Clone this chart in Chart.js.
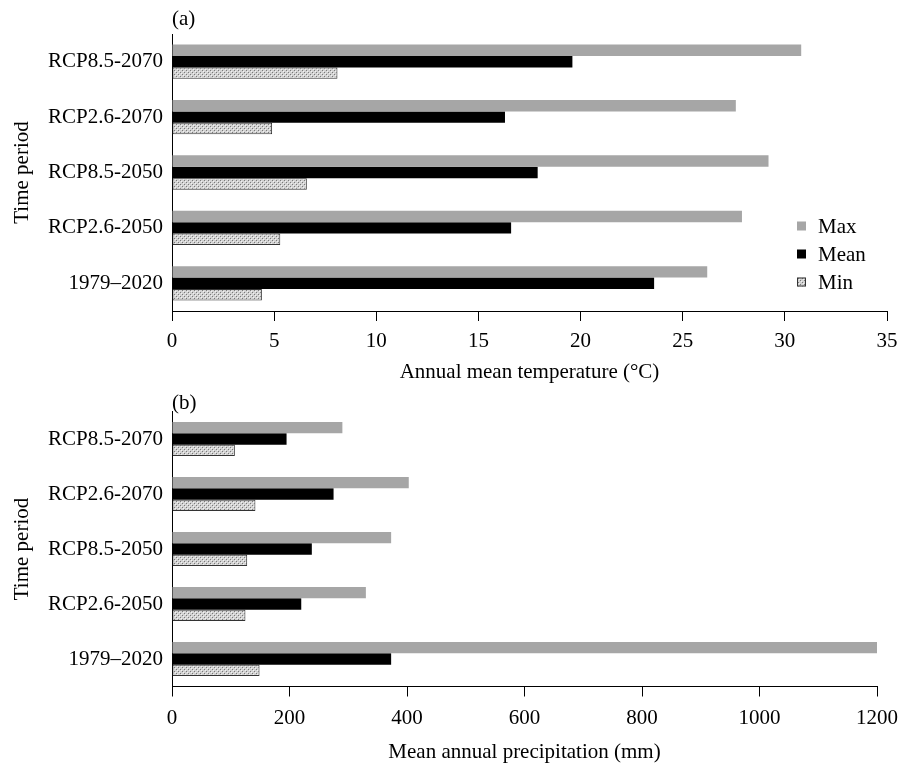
<!DOCTYPE html>
<html>
<head>
<meta charset="utf-8">
<script src="https://cdn.jsdelivr.net/npm/chart.js@4/dist/chart.umd.min.js"></script>
<style>
  body { margin: 0; background: #fff; }
  #wrap { position: relative; width: 898px; height: 767px; }
  #chartA { position: absolute; left: 0; top: 0; }
  #chartB { position: absolute; left: 0; top: 385px; }
</style>
</head>
<body>
<div id="wrap">
  <canvas id="chartA" width="898" height="385"></canvas>
  <canvas id="chartB" width="898" height="382"></canvas>
</div>
<script>
// categories
var periods = ['RCP8.5-2070', 'RCP2.6-2070', 'RCP8.5-2050', 'RCP2.6-2050', '1979–2020'];
var seriesNames = ['Max', 'Mean', 'Min'];

// (a) annual mean temperature, °C
var tempMax = [30.8, 27.6, 29.2, 27.9, 26.2];
var tempMean = [19.6, 16.3, 17.9, 16.6, 23.6];
var tempMin = [8.1, 4.9, 6.6, 5.3, 4.4];
var tempTicks = [0, 5, 10, 15, 20, 25, 30, 35];

// (b) mean annual precipitation, mm
var precMax = [290, 403, 373, 330, 1200];
var precMean = [195, 275, 238, 220, 373];
var precMin = [107, 142, 128, 125, 149];
var precTicks = [0, 200, 400, 600, 800, 1000, 1200];

var serif = "'Liberation Serif', 'Times New Roman', serif";
var fontSize = 21;

// stipple fill for the Min bars
function makeStipple() {
  var c = document.createElement('canvas');
  c.width = 4;
  c.height = 4;
  var g = c.getContext('2d');
  g.fillStyle = '#d2d2d2';
  g.fillRect(0, 0, 4, 4);
  g.fillStyle = '#f2f2f2';
  g.fillRect(1, 1, 1, 1);
  g.fillRect(3, 3, 1, 1);
  g.fillStyle = '#7a7a7a';
  g.fillRect(0, 0, 1, 1);
  g.fillRect(2, 2, 1, 1);
  return g.createPattern(c, 'repeat');
}
var stipple = makeStipple();

// panel letter + optional legend
var panelPlugin = {
  id: 'panel',
  afterDraw: function(chart, args, opts) {
    var ctx = chart.ctx;
    ctx.save();
    ctx.font = fontSize + 'px ' + serif;
    ctx.fillStyle = '#000';
    ctx.textBaseline = 'middle';
    ctx.textAlign = 'left';
    ctx.fillText(opts.letter, chart.chartArea.left, opts.letterY);
    if (opts.legend) {
      var styles = chart.data.datasets;
      for (var i = 0; i < styles.length; i++) {
        var y = opts.legend.y + i * 28;
        ctx.fillStyle = styles[i].backgroundColor;
        ctx.fillRect(opts.legend.x, y - 4.5, 9, 9);
        if (styles[i].borderWidth) {
          ctx.strokeStyle = '#333';
          ctx.lineWidth = 1;
          ctx.strokeRect(opts.legend.x + 0.5, y - 4, 8, 8);
        }
        ctx.fillStyle = '#000';
        ctx.fillText(styles[i].label, opts.legend.x + 21, y + 1);
      }
    }
    ctx.restore();
  }
};

function buildDatasets(maxVals, meanVals, minVals) {
  return [
    { label: seriesNames[0], data: maxVals, backgroundColor: '#a6a6a6', borderWidth: 0 },
    { label: seriesNames[1], data: meanVals, backgroundColor: '#000000', borderWidth: 0 },
    { label: seriesNames[2], data: minVals, backgroundColor: stipple, borderColor: '#333', borderWidth: 1, borderSkipped: false }
  ];
}

function buildOptions(cfg) {
  return {
    indexAxis: 'y',
    responsive: false,
    animation: false,
    layout: { padding: { left: 0, right: cfg.padRight, top: cfg.padTop, bottom: 0 } },
    datasets: { bar: { categoryPercentage: 0.62, barPercentage: 1.0 } },
    plugins: {
      legend: { display: false },
      tooltip: { enabled: false },
      panel: cfg.panel
    },
    scales: {
      x: {
        min: 0,
        max: cfg.ticks[cfg.ticks.length - 1],
        afterBuildTicks: function(axis) {
          axis.ticks = cfg.ticks.map(function(v) { return { value: v }; });
        },
        afterFit: function(axis) {
          axis.height = cfg.xHeight;
          axis.paddingLeft = 0;
          axis.paddingRight = 0;
        },
        grid: { display: true, drawOnChartArea: false, drawTicks: true, tickLength: 10, color: '#000' },
        border: { display: true, color: '#000', width: 1 },
        ticks: {
          color: '#000',
          padding: cfg.tickPad,
          font: { family: serif, size: fontSize },
          callback: function(value) { return String(value); }
        },
        title: {
          display: true,
          text: cfg.xTitle,
          color: '#000',
          font: { family: serif, size: fontSize },
          padding: { top: 0, bottom: cfg.titlePad }
        }
      },
      y: {
        afterFit: function(axis) { axis.width = 172; },
        grid: { display: false, drawTicks: false },
        border: { display: true, color: '#000', width: 1 },
        ticks: { color: '#000', padding: 9, font: { family: serif, size: fontSize } },
        title: {
          display: true,
          text: 'Time period',
          color: '#000',
          font: { family: serif, size: fontSize },
          padding: { top: 9.4, bottom: 0 }
        }
      }
    }
  };
}

// create charts
var chartA = new Chart(document.getElementById('chartA').getContext('2d'), {
  type: 'bar',
  data: { labels: periods, datasets: buildDatasets(tempMax, tempMean, tempMin) },
  options: buildOptions({
    padRight: 11, padTop: 34, xHeight: 74, tickPad: 7.4, titlePad: 0.4,
    ticks: tempTicks,
    xTitle: 'Annual mean temperature (°C)',
    panel: { letter: '(a)', letterY: 19, legend: { x: 797, y: 226 } }
  }),
  plugins: [panelPlugin]
});

var chartB = new Chart(document.getElementById('chartB').getContext('2d'), {
  type: 'bar',
  data: { labels: periods, datasets: buildDatasets(precMax, precMean, precMin) },
  options: buildOptions({
    padRight: 21, padTop: 26.5, xHeight: 80.5, tickPad: 9, titlePad: 2.4,
    ticks: precTicks,
    xTitle: 'Mean annual precipitation (mm)',
    panel: { letter: '(b)', letterY: 18 }
  }),
  plugins: [panelPlugin]
});
</script>
</body>
</html>
